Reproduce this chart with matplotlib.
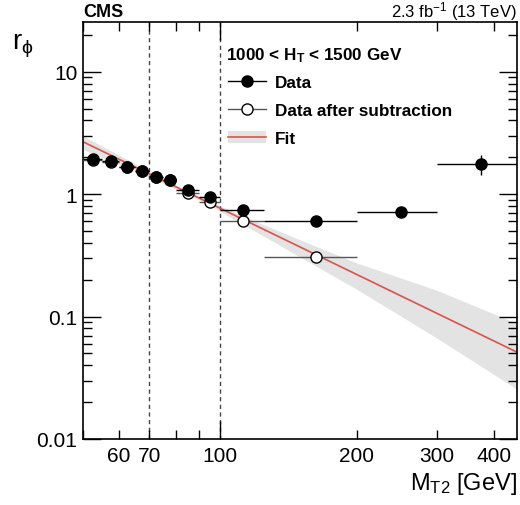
import matplotlib
matplotlib.use("Agg")
import matplotlib.pyplot as plt
import numpy as np
from matplotlib.lines import Line2D
from matplotlib.patches import Patch
from matplotlib.ticker import FixedLocator, FixedFormatter, NullFormatter

plt.rcParams["font.family"] = ["Liberation Sans", "DejaVu Sans"]
plt.rcParams["mathtext.fontset"] = "custom"
plt.rcParams["mathtext.rm"] = "Liberation Sans"
plt.rcParams["mathtext.it"] = "Liberation Sans:italic"
plt.rcParams["mathtext.bf"] = "Liberation Sans:bold"
plt.rcParams["mathtext.default"] = "regular"

# ── data ─────────────────────────────────────────────────────────────────────
bin_lo = [50, 55, 60, 65, 70, 75, 80, 90, 100, 125, 200, 300]
bin_hi = [55, 60, 65, 70, 75, 80, 90, 100, 125, 200, 300, 450]
data_y = [1.92, 1.85, 1.67, 1.55, 1.38, 1.31, 1.08, 0.95, 0.74, 0.605, 0.72, 1.76]
data_err = [0.03, 0.03, 0.03, 0.03, 0.03, 0.03, 0.03, 0.03, 0.03, 0.02, 0.065, 0.33]

# data after subtraction only exists up to 200 GeV
sub_y = [1.91, 1.84, 1.66, 1.54, 1.37, 1.30, 1.03, 0.865, 0.605, 0.304]
sub_err = [0.03, 0.03, 0.03, 0.03, 0.03, 0.03, 0.03, 0.03, 0.02, 0.02]

fit_x = [50, 450]
fit_y = [2.68, 0.0512]

band_x  = [50, 60, 70, 80, 90, 100, 125, 150, 200, 300, 450]
band_hi = [2.99, 2.09, 1.54, 1.19, 0.957, 0.80, 0.562, 0.424, 0.274, 0.164, 0.0878]
band_lo = [2.31, 1.74, 1.37, 1.10, 0.897, 0.725, 0.453, 0.307, 0.167, 0.0667, 0.0255]

x_label_ticks = [60, 70, 100, 200, 300, 400]

# ── figure ───────────────────────────────────────────────────────────────────
fig = plt.figure(figsize=(5.2, 5.06), dpi=100)
ax = fig.add_axes([83 / 520, 1 - 440 / 506, 434 / 520, 417 / 506])
ax.set_xscale("log")
ax.set_yscale("log")
ax.set_xlim(50, 450)
ax.set_ylim(0.01, 25.5)

lo = np.array(bin_lo, dtype=float)
hi = np.array(bin_hi, dtype=float)
cen = 0.5 * (lo + hi)

ax.fill_between(band_x, band_lo, band_hi, color="#e3e3e3", lw=0, zorder=1)
ax.plot(fit_x, fit_y, color="#d9534f", lw=1.2, zorder=2)

for xv in (70, 100):
    ax.axvline(xv, color="#444444", lw=1, ls=(0, (3, 2.5)), zorder=1.5)

n = len(sub_y)
ax.errorbar(cen[:n], sub_y, yerr=sub_err,
            xerr=[cen[:n] - lo[:n], hi[:n] - cen[:n]],
            fmt="o", ms=8, mfc="white", mec="black", mew=1,
            ecolor="#555555", elinewidth=1, capsize=0, zorder=3)
ax.errorbar(cen, data_y, yerr=data_err,
            xerr=[cen - lo, hi - cen],
            fmt="o", ms=8, color="black", ecolor="black",
            elinewidth=1, capsize=0, zorder=4)

# ticks, ROOT style
ax.tick_params(which="both", direction="in", top=True, right=True,
               labelsize=15, width=1)
ax.tick_params(which="major", length=13)
ax.tick_params(which="minor", length=6.5)
ax.tick_params(axis="x", which="both", pad=5)
ax.tick_params(axis="y", which="both", pad=4)

ax.xaxis.set_major_locator(FixedLocator([100]))
ax.xaxis.set_major_formatter(FixedFormatter(["100"]))
minor_x = [50, 60, 70, 80, 90, 200, 300, 400]
ax.xaxis.set_minor_locator(FixedLocator(minor_x))
ax.xaxis.set_minor_formatter(FixedFormatter(
    [str(v) if v in x_label_ticks else "" for v in minor_x]))

ax.yaxis.set_major_locator(FixedLocator([0.01, 0.1, 1, 10]))
ax.yaxis.set_major_formatter(FixedFormatter(["0.01", "0.1", "1", "10"]))
ax.yaxis.set_minor_formatter(NullFormatter())

for s in ax.spines.values():
    s.set_linewidth(1.2)

# labels
fig.text(83 / 520, 1 - 17 / 506, "CMS", fontsize=13, fontweight="bold",
         ha="left", va="baseline")
fig.text(517 / 520, 1 - 17 / 506, r"2.3 fb$^{-1}$ (13 TeV)", fontsize=12,
         ha="right", va="baseline")
fig.text(12 / 520, 1 - 50 / 506, r"r$_{\phi}$", fontsize=20,
         ha="left", va="baseline")
fig.text(517 / 520, 1 - 490 / 506, r"M$_{T2}$ [GeV]", fontsize=17,
         ha="right", va="baseline")

# legend
ax.text(0.33, 0.922, r"1000 < H$_{\mathbf{T}}$ < 1500 GeV",
        transform=ax.transAxes, fontsize=12.3, fontweight="bold",
        ha="left", va="center")
h_data = Line2D([], [], color="black", marker="o", ms=8, lw=1)
h_sub = Line2D([], [], color="#555555", marker="o", ms=8, mfc="white",
               mec="black", lw=1)
h_fit = (Patch(facecolor="#e3e3e3", edgecolor="none"),
         Line2D([], [], color="#d9534f", lw=1.2))
ax.legend([h_data, h_sub, h_fit], ["Data", "Data after subtraction", "Fit"],
          loc="upper left", bbox_to_anchor=(0.335, 0.872), frameon=False,
          prop={"weight": "bold", "size": 12.3}, handlelength=2.2,
          handletextpad=0.55, labelspacing=0.76, borderaxespad=0,
          borderpad=0)

fig.savefig("out.png", dpi=100)
